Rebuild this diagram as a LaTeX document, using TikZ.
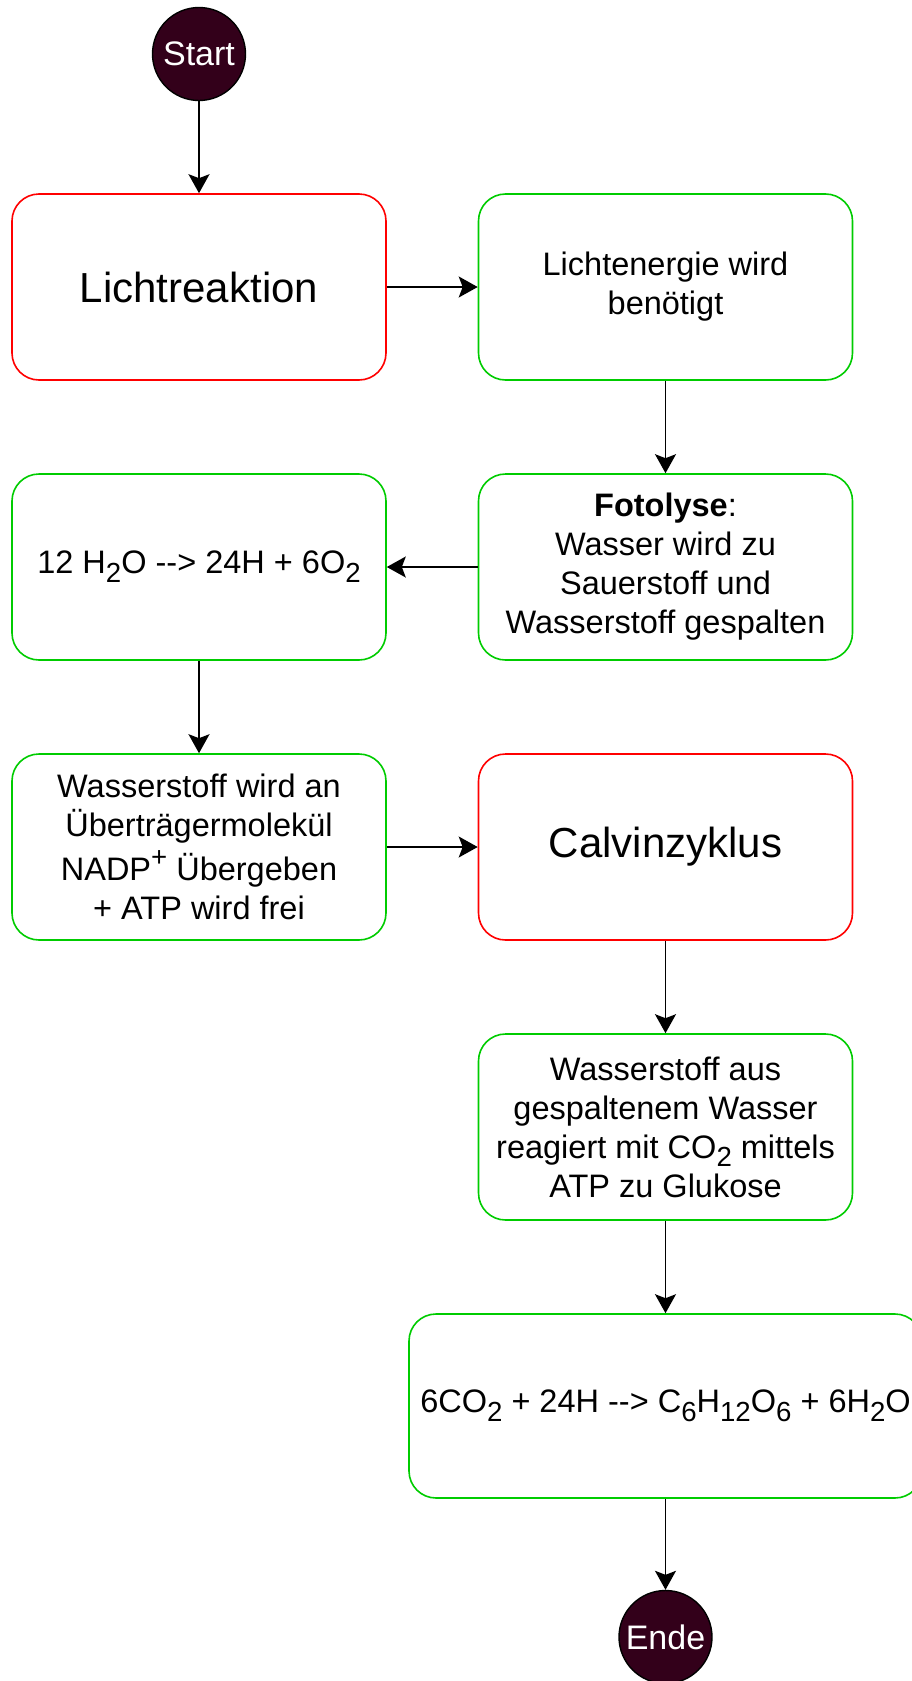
\documentclass[tikz,border=0pt]{standalone}
\usepackage{fontspec}
\setmainfont{Liberation Sans}
\usepackage{graphicx}
\usetikzlibrary{arrows.meta}
\definecolor{boxred}{HTML}{FF0000}
\definecolor{boxgreen}{HTML}{00CC00}
\definecolor{termfill}{HTML}{33001A}
\newcommand\lsub[1]{\raisebox{-0.27em}{\scalebox{0.85}{#1}}}
\newcommand\lsup[1]{\raisebox{0.42em}{\scalebox{0.85}{#1}}}
\newcommand\larr{-{}-{}>}
\begin{document}
\begin{tikzpicture}[x=1pt,y=-1pt,
  box/.style={rectangle,rounded corners=27pt,line width=1.6pt,fill=white,
    minimum width=374pt,minimum height=186pt,align=center,inner sep=4pt,
    font=\fontsize{32.5}{39}\selectfont},
  redbox/.style={box,draw=boxred,font=\fontsize{42}{50}\selectfont},
  greenbox/.style={box,draw=boxgreen},
  term/.style={circle,draw=black,line width=1.4pt,fill=termfill,text=white,
    minimum size=93pt,inner sep=0pt,font=\fontsize{34}{40}\selectfont},
  conn/.style={line width=1.6pt,-{Stealth[length=19pt,width=21pt,inset=4pt]}}]
\useasboundingbox (0,0) rectangle (912,1681);
\node[term] (start) at (199,54) {Start};
\node[redbox] (licht) at (199,287) {Lichtreaktion};
\node[greenbox] (energie) at (665.5,287) {Lichtenergie wird\\benötigt};
\node[greenbox] (foto) at (665.5,567) {\textbf{Fotolyse}:\\Wasser wird zu\\Sauerstoff und\\Wasserstoff gespalten};
\node[greenbox] (wasser) at (199,567) {12 H\lsub{2}O \larr{} 24H + 6O\lsub{2}};
\node[greenbox] (wstoff) at (199,847) {Wasserstoff wird an\\Überträgermolekül\\[5pt]NADP\lsup{+} Übergeben\\+ ATP wird frei};
\node[redbox] (calvin) at (665.5,847) {Calvinzyklus};
\node[greenbox] (glu) at (665.5,1127) {Wasserstoff aus\\gespaltenem Wasser\\reagiert mit CO\lsub{2} mittels\\ATP zu Glukose};
\node[greenbox,minimum width=513pt,minimum height=184pt] (eq) at (665.5,1406) {6CO\lsub{2} + 24H \larr{} C\lsub{6}H\lsub{12}O\lsub{6} + 6H\lsub{2}O};
\node[term] (ende) at (665.5,1637) {Ende};
\draw[conn] (start) -- (licht);
\draw[conn] (licht) -- (energie);
\draw[conn] (energie) -- (foto);
\draw[conn] (foto) -- (wasser);
\draw[conn] (wasser) -- (wstoff);
\draw[conn] (wstoff) -- (calvin);
\draw[conn] (calvin) -- (glu);
\draw[conn] (glu) -- (eq);
\draw[conn] (eq) -- (ende);
\end{tikzpicture}
\end{document}
